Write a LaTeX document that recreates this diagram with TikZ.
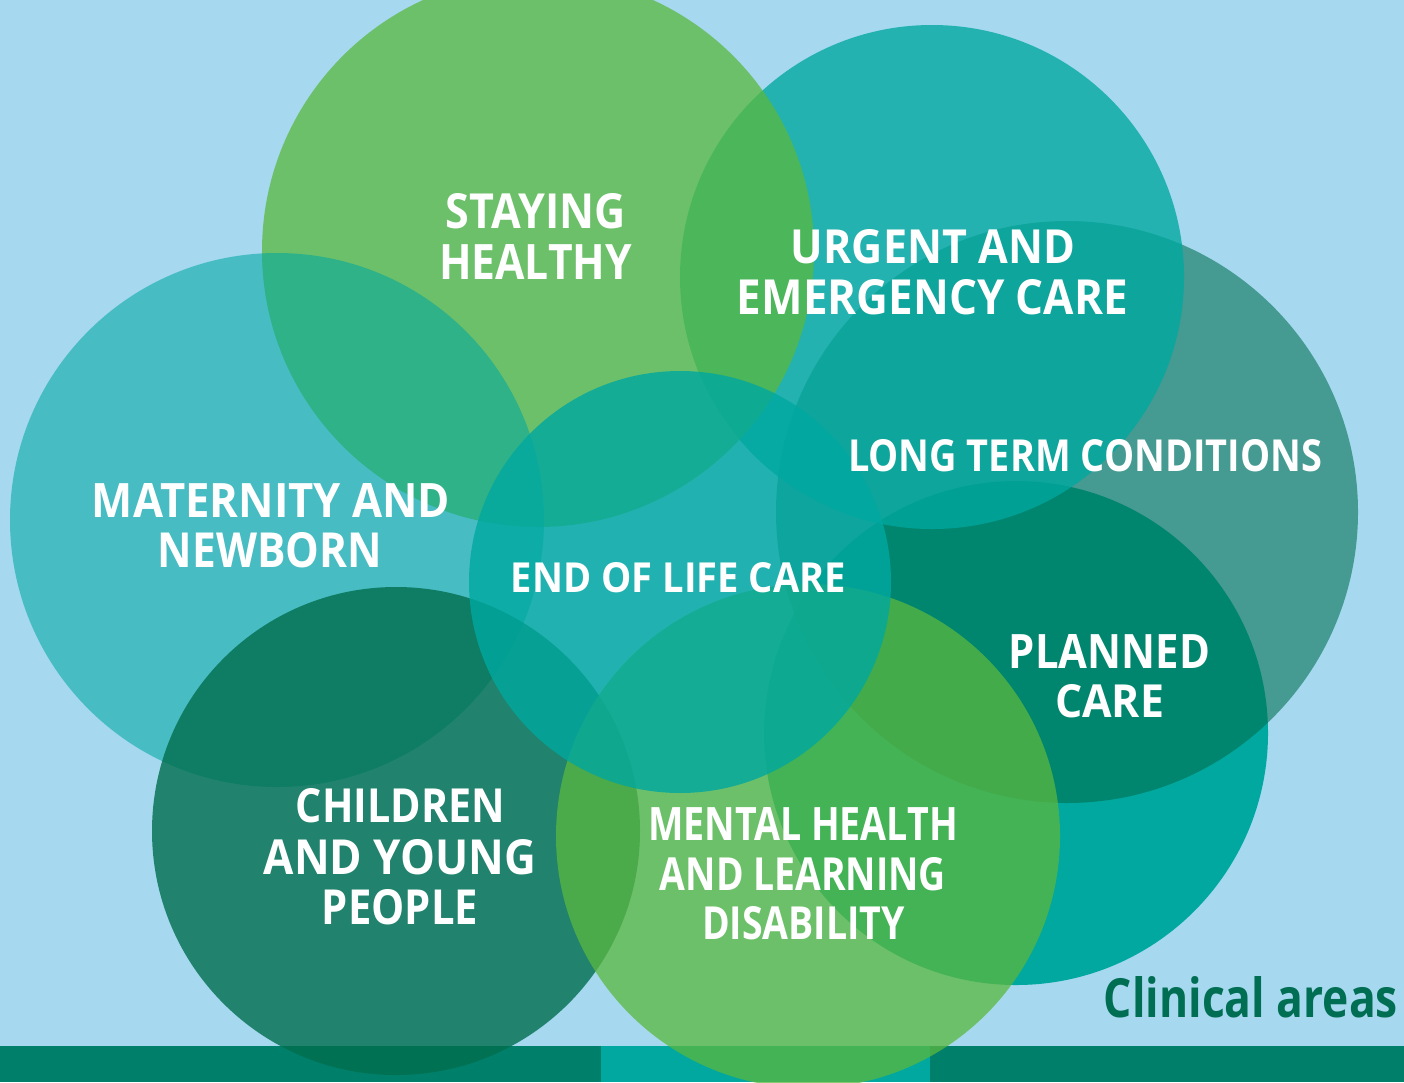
\documentclass[tikz,border=0pt]{standalone}
\usepackage{fontspec}
\setmainfont{Open Sans}
\usepackage{graphicx}
\definecolor{bgc}{RGB}{166,216,240}
\definecolor{tealc}{RGB}{0,168,160}
\definecolor{darkc}{RGB}{0,110,77}
\definecolor{greenc}{RGB}{90,184,62}
\definecolor{barc}{RGB}{0,128,106}
\definecolor{titlec}{RGB}{0,110,82}
\tikzset{
  lbl/.style={inner sep=0pt, text=white, font=\bfseries},
  tealdisc/.style={fill=tealc},
  darkdisc/.style={fill=darkc},
  greendisc/.style={fill=greenc, fill opacity=0.75}
}
\newcommand{\fitt}[3]{\resizebox{#1pt}{#2pt}{#3}}
\begin{document}
\begin{tikzpicture}[x=1pt,y=-1pt]
\useasboundingbox (0,0) rectangle (1404,1082);
\clip (0,0) rectangle (1404,1082);
\fill[bgc] (0,0) rectangle (1404,1082);
% bottom bar
\fill[barc] (0,1046) rectangle (1404,1082);
\fill[tealc] (601,1046) rectangle (930,1082);
% circles, bottom to top
\fill[tealdisc] (1016,733) circle[radius=252pt];            % planned
\fill[darkdisc, fill opacity=0.58] (1067,512) circle[radius=291pt]; % long term
\fill[tealdisc, fill opacity=0.79] (932,277) circle[radius=252pt];  % urgent
\fill[greendisc] (538,251) circle[radius=276pt];              % staying healthy
\fill[tealdisc, fill opacity=0.57] (277,520) circle[radius=267pt];  % maternity
\fill[darkdisc, fill opacity=0.8] (396,831) circle[radius=244pt];   % children
\fill[greendisc] (808,836) circle[radius=252pt];              % mental health
\fill[tealdisc, fill opacity=0.8] (680,582) circle[radius=211pt];   % end of life
% labels
\node[lbl] (sh1) at (536,211.5) {\fitt{180}{35}{STAYING}};
\node[lbl] (sh2) at (535.5,261.5) {\fitt{193}{35}{HEALTHY}};
\node[lbl] (ue1) at (933,247) {\fitt{284}{34}{URGENT AND}};
\node[lbl] (ue2) at (932.5,297.5) {\fitt{391}{35}{EMERGENCY CARE}};
\node[lbl] (lt1) at (1085,456) {\fitt{474}{32}{LONG TERM CONDITIONS}};
\node[lbl] (ma1) at (271,500) {\fitt{358}{34}{MATERNITY AND}};
\node[lbl] (ma2) at (270,550.5) {\fitt{224}{35}{NEWBORN}};
\node[lbl] (eo1) at (678.5,578) {\fitt{335}{30}{END OF LIFE CARE}};
\node[lbl] (pc1) at (1109.5,651) {\fitt{201}{34}{PLANNED}};
\node[lbl] (pc2) at (1109.5,701.5) {\fitt{109}{33}{CARE}};
\node[lbl] (cy1) at (400.5,806) {\fitt{209}{34}{CHILDREN}};
\node[lbl] (cy2) at (400,857.5) {\fitt{272}{35}{AND YOUNG}};
\node[lbl] (cy3) at (400,907.5) {\fitt{156}{35}{PEOPLE}};
\node[lbl] (mh1) at (803,823.5) {\fitt{310}{33}{MENTAL HEALTH}};
\node[lbl] (mh2) at (803,874.5) {\fitt{286}{33}{AND LEARNING}};
\node[lbl] (mh3) at (803.5,923.5) {\fitt{203}{33}{DISABILITY}};
\node[inner sep=0pt, text=titlec, font=\bfseries] (title) at (1251,997.5) {\fitt{294}{41}{Clinical areas}};
\end{tikzpicture}
\end{document}
